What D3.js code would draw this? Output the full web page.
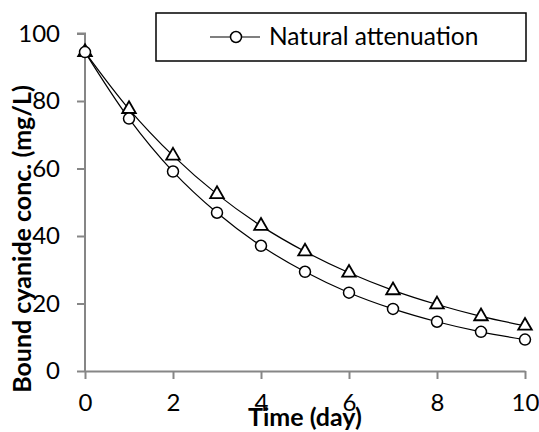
<!DOCTYPE html>
<html>
<head>
<meta charset="utf-8">
<script src="https://cdn.jsdelivr.net/npm/d3@7"></script>
<style>
  html, body { margin: 0; padding: 0; background: #fff; }
  svg { display: block; }
  text { font-family: Lato, "Open Sans", sans-serif; fill: #000; }
</style>
</head>
<body>
<svg id="chart" width="539" height="432"></svg>
<script>
const days = [0, 1, 2, 3, 4, 5, 6, 7, 8, 9, 10];
const naturalAttenuation = [94.5, 74.8, 59.1, 46.9, 37.1, 29.4, 23.2, 18.4, 14.6, 11.6, 9.3];
const secondSeries = [94.5, 77.6, 63.8, 52.4, 43.0, 35.4, 29.1, 23.9, 19.7, 16.2, 13.4];
const xTicks = [0, 2, 4, 6, 8, 10];
const yTicks = [0, 20, 40, 60, 80, 100];
const legendLabel = "Natural attenuation";
const xTitle = "Time (day)";
const yTitle = "Bound cyanide conc. (mg/L)";

const svg = d3.select("#chart");
const x = d3.scaleLinear().domain([0, 10]).range([85, 525]);
const y = d3.scaleLinear().domain([0, 100]).range([371, 33.5]);
const axisColor = "#868686";

// axes
const xAxis = svg.append("g").attr("transform", `translate(0,${y(0)})`)
  .call(d3.axisBottom(x).tickValues(xTicks).tickSizeInner(8).tickSizeOuter(0).tickPadding(15));
const yAxis = svg.append("g").attr("transform", `translate(${x(0)},0)`)
  .call(d3.axisLeft(y).tickValues(yTicks).tickSizeInner(8).tickSizeOuter(0).tickPadding(17));
[xAxis, yAxis].forEach(a => {
  a.select(".domain").attr("stroke", axisColor).attr("stroke-width", 2);
  a.selectAll(".tick line").attr("stroke", axisColor).attr("stroke-width", 2);
  a.selectAll(".tick text").attr("font-family", "Lato, sans-serif").attr("font-size", 24).attr("fill", "#000");
});
yAxis.select(".domain").attr("d", `M0,${y(0)}V${y(100)}H-8`);

// lines
const line = d3.line().x((d, i) => x(days[i])).y(d => y(d)).curve(d3.curveCatmullRom.alpha(0.5));
svg.append("path").datum(secondSeries).attr("d", line).attr("fill", "none").attr("stroke", "#000").attr("stroke-width", 1.2);
svg.append("path").datum(naturalAttenuation).attr("d", line).attr("fill", "none").attr("stroke", "#000").attr("stroke-width", 1.2);

// markers
svg.selectAll(".tri").data(secondSeries).enter().append("path")
  .attr("class", "tri")
  .attr("d", d3.symbol().type(d3.symbolTriangle).size(80))
  .attr("transform", (d, i) => `translate(${x(days[i])},${y(d)})`)
  .attr("fill", "#fff").attr("stroke", "#000").attr("stroke-width", 1.8);
svg.selectAll(".circ").data(naturalAttenuation).enter().append("circle")
  .attr("class", "circ")
  .attr("cx", (d, i) => x(days[i])).attr("cy", d => y(d)).attr("r", 5.5)
  .attr("fill", "#fff").attr("stroke", "#000").attr("stroke-width", 1.5);

// legend
const lg = svg.append("g");
lg.append("rect").attr("x", 156).attr("y", 13).attr("width", 370).attr("height", 48)
  .attr("fill", "#fff").attr("stroke", "#000").attr("stroke-width", 1.5);
lg.append("line").attr("x1", 210).attr("x2", 260).attr("y1", 37).attr("y2", 37)
  .attr("stroke", "#000").attr("stroke-width", 1.2);
lg.append("circle").attr("cx", 236).attr("cy", 37).attr("r", 5.5)
  .attr("fill", "#fff").attr("stroke", "#000").attr("stroke-width", 1.5);
lg.append("text").attr("x", 269).attr("y", 45).attr("font-size", 24.5).text(legendLabel);

// titles
svg.append("text").attr("x", 305).attr("y", 426).attr("text-anchor", "middle")
  .attr("font-size", 25).attr("font-weight", "bold").text(xTitle);
svg.append("text").attr("transform", "translate(31,239) rotate(-90)").attr("text-anchor", "middle")
  .attr("font-size", 25).attr("font-weight", "bold").text(yTitle);
</script>
</body>
</html>
